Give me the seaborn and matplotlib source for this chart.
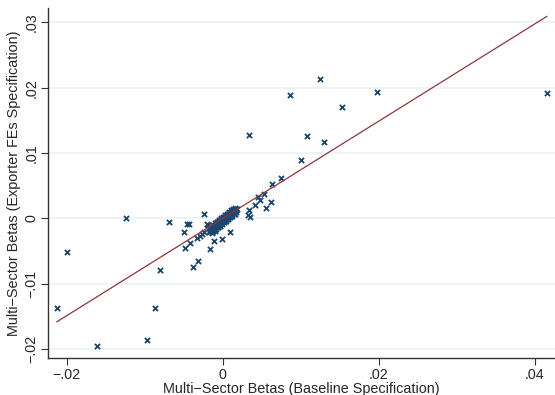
import numpy as np
import pandas as pd
import matplotlib
matplotlib.use("Agg")
import matplotlib.pyplot as plt
import seaborn as sns

# Outlying sector betas (baseline x, exporter-FE y)
outlier_x = [-0.02128, -0.02000, -0.01615, -0.01240, -0.00970, -0.00872, -0.00808,
             -0.00692, -0.00483, -0.00496, -0.00458, -0.00427, -0.00414, -0.00320,
             -0.00385, -0.00240, -0.00137, -0.00111, -0.00167, -0.00004, 0.00094,
             -0.00330, -0.00295, -0.00265, -0.00240, -0.00200, -0.00183,
             0.00333, 0.01535, 0.01077, 0.01299, 0.01000, 0.00744, 0.00637,
             0.00526, 0.00458, 0.00483, 0.00619, 0.00419, 0.00551, 0.00338,
             0.00321, 0.00355, 0.01248, 0.00868, 0.01974, 0.04158]
outlier_y = [-0.01371, -0.00517, -0.01957, 0.00010, -0.01856, -0.01375, -0.00789,
             -0.00050, -0.00452, -0.00211, -0.00084, -0.00080, -0.00370, -0.00651,
             -0.00743, 0.00069, -0.00217, -0.00345, -0.00462, -0.00310, -0.00202,
             -0.00304, -0.00268, -0.00242, -0.00212, -0.00089, -0.00100,
             0.01279, 0.01707, 0.01268, 0.01167, 0.00891, 0.00625, 0.00528,
             0.00371, 0.00325, 0.00288, 0.00253, 0.00207, 0.00156, 0.00130,
             0.00049, 0.00023, 0.02136, 0.01891, 0.01942, 0.01917]

# Dense cluster of sectors around zero
cluster_x = [-0.00175, -0.00165, -0.00160, -0.00150, -0.00145, -0.00140, -0.00130,
             -0.00125, -0.00120, -0.00115, -0.00110, -0.00105, -0.00100, -0.00095,
             -0.00090, -0.00085, -0.00080, -0.00078, -0.00072, -0.00070, -0.00065,
             -0.00060, -0.00058, -0.00052, -0.00050, -0.00045, -0.00040, -0.00038,
             -0.00032, -0.00030, -0.00025, -0.00022, -0.00018, -0.00015, -0.00010,
             -0.00008, -0.00005, 0.00000, 0.00002, 0.00005, 0.00010, 0.00012,
             0.00015, 0.00020, 0.00022, 0.00025, 0.00030, 0.00032, 0.00035,
             0.00040, 0.00042, 0.00045, 0.00050, 0.00052, 0.00055, 0.00060,
             0.00062, 0.00065, 0.00070, 0.00072, 0.00075, 0.00080, 0.00082,
             0.00085, 0.00090, 0.00092, 0.00095, 0.00100, 0.00102, 0.00105,
             0.00110, 0.00115, 0.00120, 0.00125, 0.00130, 0.00135, 0.00140,
             0.00148, 0.00155, 0.00165, 0.00175, 0.00185, 0.00120, 0.00150,
             -0.00120, -0.00095, -0.00070, -0.00045, -0.00020, 0.00005, 0.00030,
             0.00055, 0.00080, 0.00105, 0.00130, 0.00155, -0.00105, -0.00080,
             -0.00055, -0.00030, -0.00005, 0.00020, 0.00045, 0.00070, 0.00095,
             0.00120, 0.00145, 0.00170, -0.00140, -0.00060, 0.00010, 0.00060,
             0.00110, 0.00160]
cluster_y = [-0.00215, -0.00190, -0.00170, -0.00200, -0.00150, -0.00175, -0.00160,
             -0.00130, -0.00185, -0.00120, -0.00145, -0.00100, -0.00130, -0.00160,
             -0.00095, -0.00115, -0.00080, -0.00135, -0.00100, -0.00060, -0.00085,
             -0.00110, -0.00050, -0.00072, -0.00095, -0.00040, -0.00062, -0.00085,
             -0.00030, -0.00050, -0.00072, -0.00020, -0.00040, -0.00060, -0.00012,
             -0.00030, -0.00048, -0.00005, -0.00022, -0.00040, 0.00005, -0.00015,
             -0.00032, 0.00015, -0.00005, -0.00022, 0.00025, 0.00005, -0.00012,
             0.00035, 0.00015, -0.00005, 0.00045, 0.00025, 0.00005, 0.00055,
             0.00035, 0.00015, 0.00065, 0.00045, 0.00025, 0.00075, 0.00055,
             0.00035, 0.00085, 0.00062, 0.00045, 0.00095, 0.00072, 0.00050,
             0.00105, 0.00080, 0.00118, 0.00090, 0.00128, 0.00100, 0.00135,
             0.00112, 0.00140, 0.00125, 0.00150, 0.00140, 0.00060, 0.00095,
             -0.00105, -0.00075, -0.00050, -0.00025, 0.00000, 0.00025, 0.00050,
             0.00075, 0.00100, 0.00122, 0.00145, 0.00160, -0.00190, -0.00160,
             -0.00135, -0.00110, -0.00085, -0.00060, -0.00035, -0.00010, 0.00015,
             0.00040, 0.00070, 0.00105, -0.00210, -0.00125, -0.00060, -0.00015,
             0.00030, 0.00075]

# Fitted line (slope, intercept)
fit_slope = 0.744
fit_intercept = 0.0

x_ticks = [-0.02, 0.0, 0.02, 0.04]
x_tick_labels = ["\u2212.02", "0", ".02", ".04"]
y_ticks = [-0.02, -0.01, 0.0, 0.01, 0.02, 0.03]
y_tick_labels = ["\u2212.02", "\u2212.01", "0", ".01", ".02", ".03"]

df = pd.DataFrame({"base": outlier_x + cluster_x, "fe": outlier_y + cluster_y})

sns.set_style("white")
plt.rcParams["font.family"] = ["Liberation Sans", "DejaVu Sans"]

fig = plt.figure(figsize=(5.55, 3.95), dpi=100)
ax = fig.add_axes([48 / 555, 37 / 395, 1 - 48 / 555, (358 - 8) / 395])

for yv in y_ticks:
    ax.axhline(yv, color="#eaf2f3", lw=1.2, zorder=0)

sns.scatterplot(data=df, x="base", y="fe", marker="x", color="#1a476f",
                s=14, linewidth=1.3, ax=ax, zorder=3)

xs = np.array([df["base"].min(), df["base"].max()])
ax.plot(xs, fit_intercept + fit_slope * xs, color="#90353b", lw=0.9, zorder=4)

ax.set_xlim(-0.0224, 0.0426)
ax.set_ylim(-0.02136, 0.0322)
ax.set_xticks(x_ticks)
ax.set_xticklabels(x_tick_labels, fontsize=10.3)
ax.set_yticks(y_ticks)
ax.set_yticklabels(y_tick_labels, fontsize=10.3, rotation=90, va="center")
ax.tick_params(axis="both", direction="out", length=5, width=0.8, color="#333333",
               pad=2, left=True, bottom=True)
for side in ["top", "right"]:
    ax.spines[side].set_visible(False)
for side in ["left", "bottom"]:
    ax.spines[side].set_color("#333333")
    ax.spines[side].set_linewidth(1.0)

ax.set_xlabel("Multi\u2212Sector Betas (Baseline Specification)", fontsize=10.4, labelpad=0)
ax.set_ylabel("Multi\u2212Sector Betas (Exporter FEs Specification)", fontsize=10.4, labelpad=2)

fig.savefig("out.png", dpi=100, facecolor="white")
